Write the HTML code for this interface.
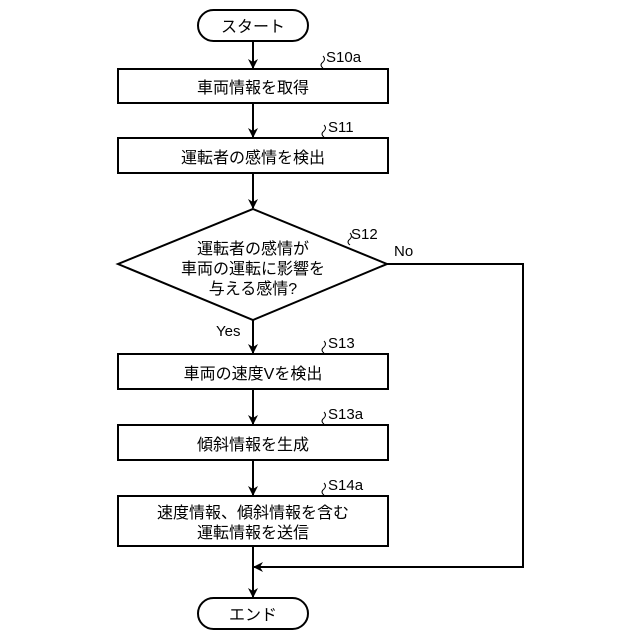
<!DOCTYPE html>
<html><head><meta charset="utf-8"><style>
html,body{margin:0;padding:0;background:#fff;}
svg{display:block;}
text{font-family:"Liberation Sans","Noto Sans CJK JP",sans-serif;fill:#000;}
</style></head><body>
<svg width="640" height="640" viewBox="0 0 640 640" xmlns="http://www.w3.org/2000/svg">
<defs><marker id="a" markerWidth="10" markerHeight="10" refX="9" refY="5" orient="auto" markerUnits="userSpaceOnUse"><path d="M0,0 L10,5 L0,10 L3,5 Z" fill="#000"/></marker></defs>
<g stroke="#000" stroke-width="2" fill="none">
<rect x="198" y="10" width="110" height="31" rx="15.5"/>
<rect x="118" y="69" width="270" height="34"/>
<rect x="118" y="138" width="270" height="35"/>
<polygon points="253,209 387,264 253,320 118,264"/>
<rect x="118" y="354" width="270" height="35"/>
<rect x="118" y="425" width="270" height="35"/>
<rect x="118" y="496" width="270" height="50"/>
<rect x="198" y="598" width="110" height="31" rx="15.5"/>
<line x1="253" y1="41" x2="253" y2="68" marker-end="url(#a)"/>
<line x1="253" y1="103" x2="253" y2="137" marker-end="url(#a)"/>
<line x1="253" y1="173" x2="253" y2="208" marker-end="url(#a)"/>
<line x1="253" y1="320" x2="253" y2="353" marker-end="url(#a)"/>
<line x1="253" y1="389" x2="253" y2="424" marker-end="url(#a)"/>
<line x1="253" y1="460" x2="253" y2="495" marker-end="url(#a)"/>
<line x1="253" y1="546" x2="253" y2="597" marker-end="url(#a)"/>
<polyline points="387,264 523,264 523,567 254,567" marker-end="url(#a)"/>
</g>
<g stroke="#000" stroke-width="1" fill="none">
<path d="M323,68 q-4,-3 0,-6 q3,-3 0,-6"/>
<path d="M324,137 q-4,-3 0,-6 q3,-3 0,-6"/>
<path d="M350,245 q-4,-3 0,-6 q3,-3 0,-6"/>
<path d="M324,353 q-4,-3 0,-6 q3,-3 0,-6"/>
<path d="M324,424 q-4,-3 0,-6 q3,-3 0,-6"/>
<path d="M324,495 q-4,-3 0,-6 q3,-3 0,-6"/>
</g>
<g font-size="16" text-anchor="middle">
<text x="253" y="32">スタート</text>
<text x="253" y="93">車両情報を取得</text>
<text x="253" y="163">運転者の感情を検出</text>
<text x="253" y="254">運転者の感情が</text>
<text x="253" y="274">車両の運転に影響を</text>
<text x="253" y="294">与える感情?</text>
<text x="253" y="379">車両の速度Vを検出</text>
<text x="253" y="450">傾斜情報を生成</text>
<text x="253" y="518">速度情報、傾斜情報を含む</text>
<text x="253" y="538">運転情報を送信</text>
<text x="253" y="620">エンド</text>
</g>
<g font-size="15">
<text x="326" y="62">S10a</text>
<text x="328" y="132">S11</text>
<text x="351" y="239">S12</text>
<text x="394" y="256">No</text>
<text x="216" y="336">Yes</text>
<text x="328" y="348">S13</text>
<text x="328" y="419">S13a</text>
<text x="328" y="490">S14a</text>
</g>
</svg>
</body></html>
